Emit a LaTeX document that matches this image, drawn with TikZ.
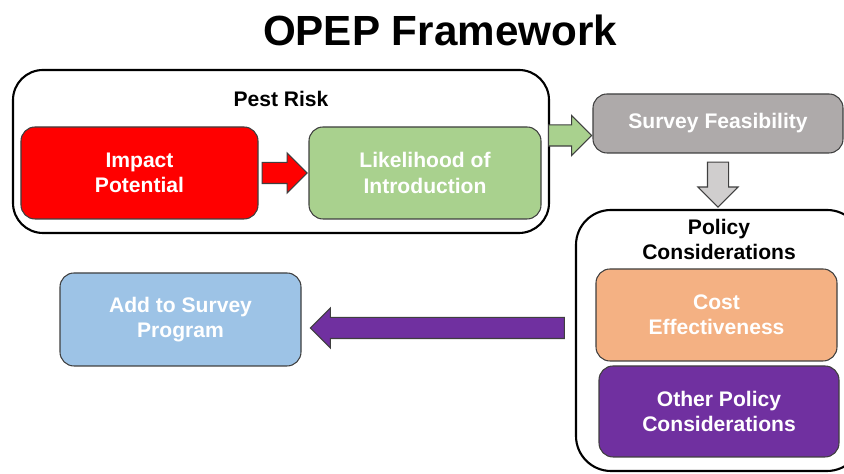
\documentclass[tikz,border=0pt]{standalone}
\usepackage{fontspec}
\setmainfont{Liberation Sans}
\usepackage{xcolor}
\usetikzlibrary{positioning,shapes.arrows}
\definecolor{opepline}{HTML}{3F3F3F}
\definecolor{opepred}{HTML}{FF0000}
\definecolor{opepgreen}{HTML}{A9D18E}
\definecolor{opepgrey}{HTML}{AEAAAA}
\definecolor{opeplightgrey}{HTML}{D0CECE}
\definecolor{opeporange}{HTML}{F4B183}
\definecolor{opeppurple}{HTML}{7030A0}
\definecolor{opepblue}{HTML}{9DC3E6}

\begin{document}
\begin{tikzpicture}[
        font=\bfseries\fontsize{12pt}{14.3pt}\selectfont,
        stage/.style={
            draw=opepline,
            line width=0.6pt,
            rounded corners=0.28cm,
            minimum width=4.8cm,
            minimum height=1.84cm,
            align=center,
            text=white
        },
        group/.style={
            draw=black,
            line width=1.2pt,
            rounded corners=0.6cm
        },
        grouptitle/.style={inner sep=0pt, align=center},
        blockarrow/.style={
            single arrow,
            draw=opepline,
            line width=0.6pt,
            inner sep=0.2cm,
            minimum width=0.78cm,
            single arrow head extend=0.19cm,
            single arrow tip angle=90
        }
    ]
        \clip (0,0) rectangle (16.88,9.48);

        \node[font=\bfseries\fontsize{24pt}{28pt}\selectfont] (title) at (8.8,8.88) {OPEP Framework};

        % pest risk group
        \node[group, minimum width=10.72cm, minimum height=3.26cm] (pest) at (5.62,6.45) {};
        \node[grouptitle, below=0.44cm of pest.north] (pestlbl) {Pest Risk};
        \node[stage, fill=opepred, minimum width=4.74cm] (impact) at (2.79,6.02) {Impact\\Potential};
        \node[stage, fill=opepgreen, minimum width=4.64cm] (likely) at (8.5,6.02) {Likelihood of\\Introduction};

        \node[stage, fill=opepgrey, minimum width=5.0cm, minimum height=1.18cm] (survey) at (14.36,7.01) {Survey Feasibility};

        % policy group
        \node[group, rounded corners=0.7cm, minimum width=5.72cm, minimum height=5.22cm] (policy) at (14.38,2.67) {};
        \node[grouptitle, below=0.2cm of policy.north] (policylbl) {Policy\\Considerations};
        \node[stage, fill=opeporange, minimum width=4.82cm] (cost) at (14.33,3.18) {Cost\\Effectiveness};
        \node[stage, fill=opeppurple, minimum height=1.82cm] (other) at (14.38,1.25) {Other Policy\\Considerations};

        \node[stage, fill=opepblue, minimum width=4.82cm, minimum height=1.86cm] (add) at (3.61,3.09) {Add to Survey\\Program};

        % block arrows
        \node[blockarrow, fill=opepred, minimum height=0.9cm, anchor=tail] (impact2likely) at ([xshift=0.06cm]impact.east) {};
        \node[blockarrow, fill=opepgreen, minimum height=0.86cm, anchor=tail] (pest2survey) at ([shift={(-0.04,0.32)}]pest.east) {};
        \node[blockarrow, fill=opeplightgrey, minimum height=0.9cm, shape border rotate=270, anchor=tail] (survey2policy) at ([yshift=-0.16cm]survey.south) {};
        \node[blockarrow, fill=opeppurple, minimum height=5.08cm, shape border rotate=180, anchor=tail] (policy2add) at ([shift={(-0.2,0.25)}]policy.west) {};
    \end{tikzpicture}
\end{document}
